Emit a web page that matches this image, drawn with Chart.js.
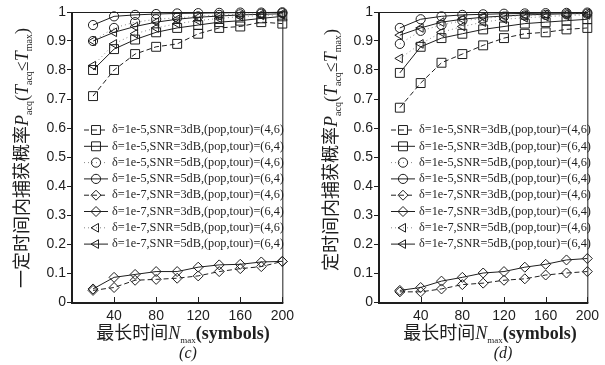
<!DOCTYPE html>
<html><head><meta charset="utf-8">
<script src="https://cdn.jsdelivr.net/npm/chart.js@4.4.0/dist/chart.umd.min.js"></script>
<style>
html,body{margin:0;padding:0;background:#fff;width:605px;height:365px;overflow:hidden}
#c1{position:absolute;left:0;top:0}
#c2{position:absolute;left:300px;top:0}
</style></head><body>
<canvas id="c1" width="300" height="365"></canvas>
<canvas id="c2" width="305" height="365"></canvas>
<script>
// ---- data ----
const nMax = [20,40,60,80,100,120,140,160,180,200];
const xTickValues = [40,80,120,160,200];
const yTickValues = [0,0.1,0.2,0.3,0.4,0.5,0.6,0.7,0.8,0.9,1];
const seriesLabels = [
  'δ=1e-5,SNR=3dB,(pop,tour)=(4,6)',
  'δ=1e-5,SNR=3dB,(pop,tour)=(6,4)',
  'δ=1e-5,SNR=5dB,(pop,tour)=(4,6)',
  'δ=1e-5,SNR=5dB,(pop,tour)=(6,4)',
  'δ=1e-7,SNR=3dB,(pop,tour)=(4,6)',
  'δ=1e-7,SNR=3dB,(pop,tour)=(6,4)',
  'δ=1e-7,SNR=5dB,(pop,tour)=(4,6)',
  'δ=1e-7,SNR=5dB,(pop,tour)=(6,4)'
];
// panel (c)
const c_sq46  = [0.71,0.80,0.855,0.88,0.89,0.925,0.945,0.95,0.965,0.96];
const c_sq64  = [0.80,0.872,0.905,0.93,0.945,0.955,0.965,0.97,0.978,0.985];
const c_ci46  = [0.90,0.945,0.965,0.975,0.98,0.985,0.99,0.992,0.994,0.996];
const c_ci64  = [0.955,0.985,0.99,0.993,0.995,0.996,0.997,0.998,0.998,0.999];
const c_di46  = [0.04,0.05,0.075,0.078,0.082,0.09,0.105,0.115,0.122,0.14];
const c_di64  = [0.045,0.085,0.095,0.105,0.105,0.12,0.128,0.13,0.138,0.14];
const c_tr46  = [0.815,0.89,0.925,0.945,0.96,0.97,0.978,0.984,0.988,0.99];
const c_tr64  = [0.90,0.93,0.95,0.965,0.975,0.982,0.986,0.99,0.992,0.994];
// panel (d)
const d_sq46  = [0.67,0.755,0.825,0.855,0.885,0.91,0.925,0.93,0.94,0.945];
const d_sq64  = [0.79,0.88,0.91,0.925,0.94,0.95,0.96,0.965,0.97,0.975];
const d_ci46  = [0.89,0.935,0.955,0.97,0.978,0.984,0.988,0.99,0.992,0.994];
const d_ci64  = [0.945,0.975,0.985,0.99,0.992,0.994,0.995,0.996,0.997,0.998];
const d_di46  = [0.035,0.035,0.045,0.06,0.065,0.075,0.08,0.093,0.1,0.105];
const d_di64  = [0.04,0.05,0.072,0.085,0.1,0.105,0.12,0.13,0.145,0.15];
const d_tr46  = [0.84,0.89,0.93,0.95,0.965,0.975,0.98,0.984,0.988,0.99];
const d_tr64  = [0.92,0.945,0.965,0.975,0.982,0.986,0.99,0.992,0.994,0.995];

const panelC = [c_sq46,c_sq64,c_ci46,c_ci64,c_di46,c_di64,c_tr46,c_tr64];
const panelD = [d_sq46,d_sq64,d_ci46,d_ci64,d_di46,d_di64,d_tr46,d_tr64];

// ---- styles ----
const INK = '#1e1e1e';
const styles = [
  {ps:'rect', r:6.3, dash:[5,3], color:INK},
  {ps:'rect', r:6.3, dash:[], color:INK},
  {ps:'circle', r:4.6, dash:[1,3], color:'#888'},
  {ps:'circle', r:4.6, dash:[], color:INK},
  {ps:'rectRot', r:5, dash:[5,3], color:INK},
  {ps:'rectRot', r:5, dash:[], color:INK},
  {ps:'triangle', r:5, rot:270, dash:[1,3], color:'#888'},
  {ps:'triangle', r:5, rot:270, dash:[], color:INK}
];

const CJK = '"Noto Sans CJK SC"';
const SERIF = '"Liberation Serif"';
function yTitleParts(cjk){
  return [
    {t:cjk, f:'18px '+CJK},
    {t:'P', f:'italic 18px '+SERIF},
    {t:'acq', f:'10px '+SERIF, dy:4},
    {t:'(', f:'18px '+SERIF},
    {t:'T', f:'italic 18px '+SERIF},
    {t:'acq', f:'10px '+SERIF, dy:4},
    {t:'≤', f:'18px '+SERIF},
    {t:'T', f:'italic 18px '+SERIF},
    {t:'max', f:'10px '+SERIF, dy:4},
    {t:')', f:'18px '+SERIF}
  ];
}
const xTitleParts = [
  {t:'最长时间', f:'18px '+CJK},
  {t:'N', f:'italic 18px '+SERIF},
  {t:'max', f:'9px '+SERIF, dy:4},
  {t:'(symbols)', f:'bold 18px '+SERIF}
];

function richWidth(ctx, parts){
  let w = 0;
  for (const p of parts){ ctx.font = p.f; w += ctx.measureText(p.t).width; }
  return w;
}
function drawRich(ctx, parts, x, y){
  let cx = x;
  for (const p of parts){
    ctx.font = p.f;
    ctx.fillText(p.t, cx, y + (p.dy || 0));
    cx += ctx.measureText(p.t).width;
  }
}

function decorPlugin(o){
  return {
    id:'decor',
    afterDraw(chart){
      const ctx = chart.ctx;
      const {left,right,top,bottom} = chart.chartArea;
      const xs = chart.scales.x;
      ctx.save();
      // frame
      ctx.strokeStyle = INK;
      ctx.lineWidth = 1;
      ctx.strokeRect(left+0.5, top+0.5, right-left, bottom-top);
      ctx.lineWidth = 2;
      ctx.beginPath();
      ctx.moveTo(left, top); ctx.lineTo(left, bottom+1); ctx.lineTo(right+1, bottom+1);
      ctx.stroke();
      // inner x ticks
      ctx.lineWidth = 1;
      for (const v of xTickValues){
        const px = Math.round(xs.getPixelForValue(v)) + 0.5;
        ctx.beginPath(); ctx.moveTo(px, bottom); ctx.lineTo(px, bottom-5); ctx.stroke();
      }
      // legend
      const rowY0 = 130, rowStep = 16.3;
      chart.data.datasets.forEach((ds, i) => {
        const st = styles[i];
        const y = rowY0 + i*rowStep;
        ctx.save();
        ctx.strokeStyle = st.color; ctx.lineWidth = 1;
        ctx.setLineDash(st.dash);
        ctx.beginPath(); ctx.moveTo(o.legendX, y); ctx.lineTo(o.legendX+24, y); ctx.stroke();
        ctx.setLineDash([]);
        ctx.strokeStyle = INK; ctx.fillStyle = 'rgba(0,0,0,0)';
        Chart.helpers.drawPoint(ctx, {pointStyle: st.ps, rotation: st.rot || 0, radius: st.r, borderWidth: 1}, o.legendX+12, y);
        ctx.restore();
        ctx.fillStyle = INK;
        ctx.font = '12px ' + SERIF;
        const w = ctx.measureText(ds.label).width;
        const size = 12 * 172 / w;
        ctx.font = size.toFixed(2) + 'px ' + SERIF;
        ctx.textBaseline = 'middle';
        ctx.fillText(ds.label, o.legendX + 28, y);
      });
      // y title (rotated)
      ctx.fillStyle = INK;
      ctx.textBaseline = 'alphabetic';
      const yp = yTitleParts(o.yTitleCJK);
      const yw = richWidth(ctx, yp);
      ctx.save();
      ctx.translate(o.yTitleX, o.yTitleCY);
      ctx.rotate(-Math.PI/2);
      drawRich(ctx, yp, -yw/2, 6);
      ctx.restore();
      // x title
      const xw = richWidth(ctx, xTitleParts);
      drawRich(ctx, xTitleParts, o.xTitleCX - xw/2, 339);
      // panel label
      ctx.font = 'italic 16px ' + SERIF;
      ctx.textAlign = 'center';
      ctx.fillText(o.panelLabel, o.panelCX, 358);
      ctx.restore();
    }
  };
}

function makeChart(canvas, panel, o){
  const datasets = panel.map((vals, i) => ({
    label: seriesLabels[i],
    data: nMax.map((x, j) => ({x: x, y: vals[j]})),
    borderColor: styles[i].color,
    backgroundColor: 'rgba(0,0,0,0)',
    borderWidth: 1,
    borderDash: styles[i].dash,
    pointStyle: styles[i].ps,
    pointRotation: styles[i].rot || 0,
    pointRadius: styles[i].r,
    pointBorderWidth: 1,
    pointBorderColor: INK,
    pointBackgroundColor: 'rgba(0,0,0,0)',
    tension: 0,
    clip: false
  }));
  return new Chart(canvas, {
    type: 'line',
    data: {datasets},
    options: {
      responsive: false, animation: false, devicePixelRatio: 1,
      layout: {padding: {top: 12, right: o.padRight, left: 0, bottom: 0}},
      plugins: {legend: {display: false}, tooltip: {enabled: false}},
      scales: {
        x: {
          type: 'linear', min: 0, max: 200,
          afterBuildTicks: s => { s.ticks = xTickValues.map(v => ({value: v})); },
          afterFit: s => { s.height = 63; },
          grid: {display: false, drawTicks: false},
          border: {display: false},
          ticks: {font: {family: 'Liberation Sans', size: 14}, color: INK, padding: 6, maxRotation: 0, autoSkip: false}
        },
        y: {
          type: 'linear', min: 0, max: 1,
          afterBuildTicks: s => { s.ticks = yTickValues.map(v => ({value: v})); },
          afterFit: s => { s.width = o.yWidth; },
          grid: {display: true, drawOnChartArea: false, drawTicks: true, tickLength: 5, color: INK},
          border: {display: false},
          ticks: {font: {family: 'Liberation Sans', size: 14}, color: INK, padding: 1,
            callback: v => (v === 0 ? '0' : v === 1 ? '1' : v.toFixed(1))}
        }
      }
    },
    plugins: [decorPlugin(o)]
  });
}

makeChart(document.getElementById('c1'), panelC, {
  padRight: 11, yWidth: 72, legendX: 84,
  yTitleCJK: '一定时间内捕获概率', yTitleX: 22, yTitleCY: 158,
  xTitleCX: 183, panelLabel: '(c)', panelCX: 188
});
makeChart(document.getElementById('c2'), panelD, {
  padRight: 7, yWidth: 79, legendX: 91,
  yTitleCJK: '定时间内捕获概率', yTitleX: 31, yTitleCY: 150,
  xTitleCX: 190, panelLabel: '(d)', panelCX: 203
});
</script>
</body></html>
